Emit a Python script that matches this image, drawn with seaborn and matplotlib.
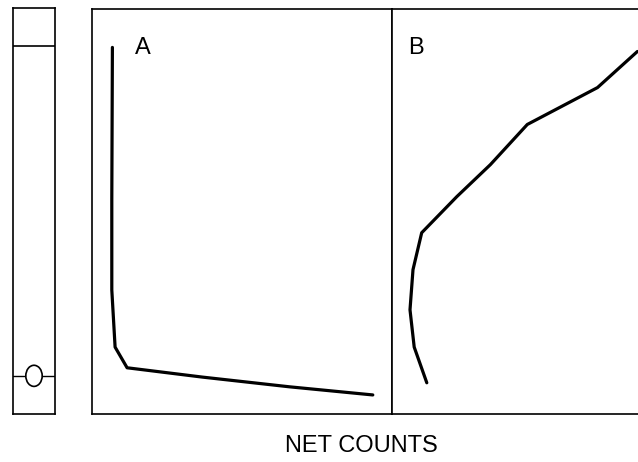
import numpy as np
import pandas as pd
import seaborn as sns
import matplotlib.pyplot as plt
from matplotlib.patches import Ellipse

# depth down the tube (0 = top, 100 = bottom), counts in arbitrary units
depth_a = [9.6, 47.2, 69.4, 83.5, 88.6, 90.9, 93.3, 95.3]
counts_a = [6.8, 6.6, 6.6, 7.7, 11.7, 36.8, 65.9, 93.6]

depth_b = [92.3, 83.5, 74.3, 64.4, 55.3, 46.4, 38.5, 28.6, 19.5, 10.6]
counts_b = [11.6, 7.4, 6.0, 7.0, 9.9, 21.6, 32.8, 45.1, 68.5, 81.8]

fill_level = 9.4
source_depth = 90.6

sns.set_theme(style='white')
plt.rcParams['font.family'] = ['Liberation Sans', 'DejaVu Sans']
plt.rcParams['text.color'] = 'black'

W, H = 638, 462
fig = plt.figure(figsize=(W / 100, H / 100), dpi=100)


def frac(x0, x1, top, bottom):
    return [x0 / W, 1 - bottom / H, (x1 - x0) / W, (bottom - top) / H]


ax_t = fig.add_axes(frac(13, 55, 8, 414))
ax_a = fig.add_axes(frac(92, 392, 8.5, 414))
ax_b = fig.add_axes(frac(392, 638, 8.5, 414))

for ax in (ax_t, ax_a, ax_b):
    ax.set_ylim(100, 0)
    ax.set_xticks([])
    ax.set_yticks([])
    for s in ax.spines.values():
        s.set_color('black')
        s.set_linewidth(1.2)

ax_b.spines['right'].set_visible(False)

# tube sketch
ax_t.set_xlim(0, 1)
ax_t.axhline(fill_level, color='black', lw=1.2)
ax_t.axhline(source_depth, color='black', lw=1.0)
ax_t.add_patch(Ellipse((0.5, source_depth), 0.39, 5.2, facecolor='white',
                       edgecolor='black', lw=1.2, zorder=3))

df_a = pd.DataFrame({'counts': counts_a, 'depth': depth_a})
df_b = pd.DataFrame({'counts': counts_b, 'depth': depth_b})

sns.lineplot(data=df_a, x='counts', y='depth', sort=False, estimator=None,
             color='black', lw=2.3, ax=ax_a)
sns.lineplot(data=df_b, x='counts', y='depth', sort=False, estimator=None,
             color='black', lw=2.3, ax=ax_b)

ax_a.set_xlim(0, 100)
ax_b.set_xlim(0, 246 / 300 * 100)
for ax in (ax_a, ax_b):
    ax.set_ylim(100, 0)
    ax.set_xlabel('')
    ax.set_ylabel('')

ax_a.text(0.17, 0.903, 'A', transform=ax_a.transAxes, fontsize=17,
          ha='center', va='center', color='black')
ax_b.text(0.098, 0.903, 'B', transform=ax_b.transAxes, fontsize=17,
          ha='center', va='center', color='black')

fig.text(361 / W, 1 - 446 / H, 'NET COUNTS', fontsize=17,
         ha='center', va='center', color='black')

plt.savefig('out.png', dpi=100)
